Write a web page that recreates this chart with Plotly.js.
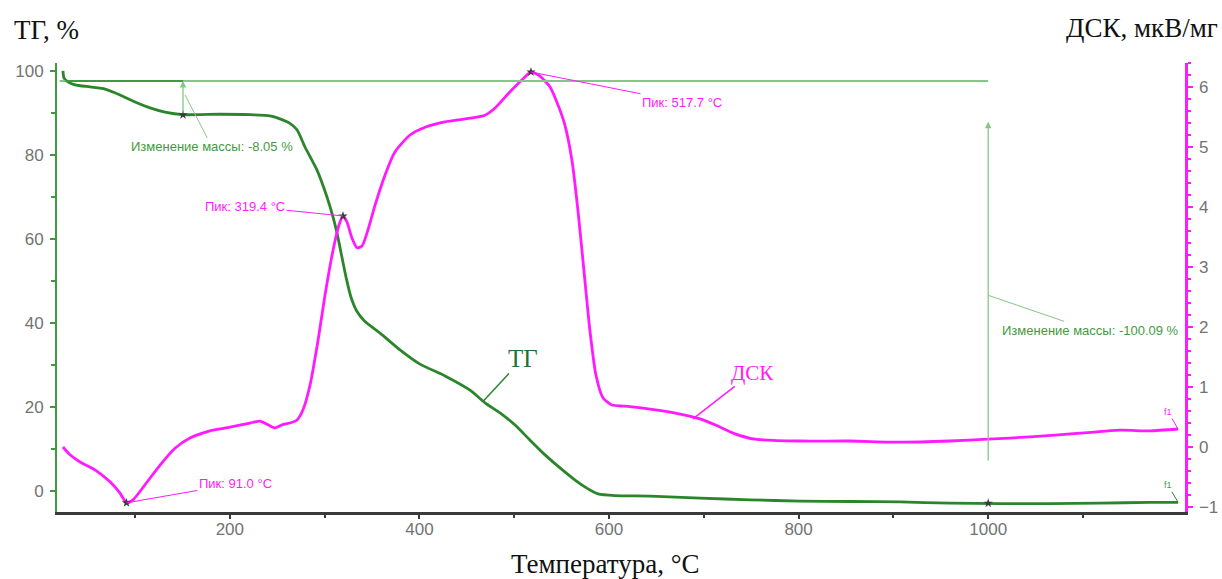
<!DOCTYPE html>
<html>
<head>
<meta charset="utf-8">
<script src="https://cdn.plot.ly/plotly-3.0.1.min.js"></script>
<style>
  html, body { margin: 0; padding: 0; background: #ffffff; }
  #chart { width: 1222px; height: 579px; }
</style>
</head>
<body>
<div id="chart"></div>
<script>
// Thermogravimetry (TG, %) and differential scanning calorimetry (DSC, µV/mg) versus temperature
const tgTemp = [24.0, 25.1, 29.3, 36.7, 52.5, 68.4, 84.2, 100, 115.8, 131.6, 150.6, 189.7, 221.3, 242.4,
  252.9, 263, 270.9, 279.3, 292.0, 302.5, 308.9, 313.1, 318, 323, 328, 334, 342, 358.5, 379.5, 400.6,
  427.0, 453.4, 469.2, 485.0, 500.9, 516.7, 532.5, 548.3, 564.2, 577.9, 588.4, 606.4, 643.3, 696.0,
  748.8, 801.5, 854.3, 907.0, 959.7, 1012.5, 1065.2, 1118.0, 1170.7, 1200.3];
const tgMass = [100.0, 98.3, 97.4, 96.7, 96.2, 95.7, 94.3, 92.6, 91.2, 90.2, 89.6, 89.7, 89.6, 89.3,
  88.6, 87.6, 86.0, 81.9, 76.4, 70.0, 65.2, 61.4, 56.0, 50.5, 46.0, 42.8, 40.5, 37.6, 33.6, 30.2,
  27.4, 24.0, 21.0, 18.6, 15.7, 12.1, 8.6, 5.5, 2.6, 0.5, -0.7, -1.1, -1.2, -1.7,
  -2.1, -2.4, -2.5, -2.6, -2.9, -3.0, -3.0, -2.9, -2.7, -2.7];

const dscTemp = [24.0, 31.4, 42.0, 57.8, 73.6, 84.2, 91.0, 97.9, 110.5, 126.4, 142.2, 158.0, 179.1, 200.2,
  221.3, 231.8, 240.3, 247.7, 255.1, 263.5, 270.9, 277.2, 284.6, 293.1, 300.4, 308.9, 315.2, 319.4,
  323.6, 328.9, 334.2, 339.5, 345.8, 353.2, 363.7, 374.3, 390.1, 406.0, 427.0, 453.4, 469.2, 479.8,
  495.6, 508.3, 517.7, 527.2, 537.8, 546.2, 553.4, 560.9, 567.2, 573.5, 579.8, 586.2, 593.6, 603.1,
  616.8, 643.3, 674.9, 696.0, 711.8, 732.9, 754.0, 801.5, 854.3, 907.0, 959.7, 1000, 1044.1, 1096.9,
  1138.9, 1170.7, 1200.3];
const dscSignal = [0.0, -0.13, -0.25, -0.38, -0.58, -0.77, -0.93, -0.88, -0.63, -0.30, -0.02, 0.15, 0.27, 0.33,
  0.40, 0.43, 0.37, 0.32, 0.37, 0.40, 0.45, 0.62, 1.03, 1.78, 2.53, 3.28, 3.70, 3.85,
  3.75, 3.48, 3.32, 3.35, 3.62, 4.03, 4.53, 4.92, 5.20, 5.33, 5.42, 5.48, 5.53, 5.65,
  5.92, 6.12, 6.25, 6.18, 6.00, 5.70, 5.37, 4.78, 3.95, 2.95, 1.95, 1.20, 0.82, 0.70,
  0.68, 0.63, 0.55, 0.47, 0.37, 0.22, 0.13, 0.10, 0.10, 0.08, 0.10, 0.13, 0.17, 0.23,
  0.28, 0.27, 0.30];

// Axis tick positions
const tempTicks = [200, 400, 600, 800, 1000];
const tempMinorTicks = [100, 300, 500, 700, 900, 1100];

// DSC peaks
const peakTemps = [91.0, 319.4, 517.7];
const peakSignals = [-0.93, 3.85, 6.25];

// Mass-change steps evaluated on the TG curve
const stepTemps = [150.6, 1000];
const stepChanges = [-8.05, -100.09];
const stepEndMass = [89.55, -2.9];
const startMass = 97.6;

const TG_GREEN = '#2b862b';
const TG_LIGHT = '#86c686';
const DSC_MAGENTA = '#ff1aff';
const TICK_GREY = '#737373';
const SERIF = '"Liberation Serif", "DejaVu Serif", serif';
const SANS = '"Liberation Sans", Arial, sans-serif';

const traces = [
  {
    x: tgTemp, y: tgMass, type: 'scatter', mode: 'lines', name: 'ТГ',
    line: { color: TG_GREEN, width: 2.8, shape: 'spline', smoothing: 0.6 },
    xaxis: 'x', yaxis: 'y', hoverinfo: 'x+y'
  },
  {
    x: dscTemp, y: dscSignal, type: 'scatter', mode: 'lines', name: 'ДСК',
    line: { color: DSC_MAGENTA, width: 2.8, shape: 'spline', smoothing: 0.6 },
    xaxis: 'x', yaxis: 'y2', hoverinfo: 'x+y'
  },
  {
    x: peakTemps, y: peakSignals, type: 'scatter', mode: 'markers', yaxis: 'y2',
    marker: { symbol: 'star', size: 7, color: '#3a3a3a' }, hoverinfo: 'skip', showlegend: false
  },
  {
    x: stepTemps, y: stepEndMass, type: 'scatter', mode: 'markers', yaxis: 'y',
    marker: { symbol: 'star', size: 7, color: '#3a3a3a' }, hoverinfo: 'skip', showlegend: false
  }
];

const smallFont = (c) => ({ family: SANS, size: 13, color: c });

const annotations = [];

// peak labels with leader lines
const peakOffsets = [[109, -19], [-98, -10], [151, 30]];
peakTemps.forEach((t, i) => {
  annotations.push({
    x: t, y: peakSignals[i], xref: 'x', yref: 'y2',
    text: 'Пик: ' + t.toFixed(1) + ' °C',
    font: smallFont(DSC_MAGENTA),
    showarrow: true, arrowhead: 0, arrowwidth: 1, arrowcolor: DSC_MAGENTA,
    ax: peakOffsets[i][0], ay: peakOffsets[i][1]
  });
});

// mass-change arrows (pointing up to the reference level)
const stepArrowBase = [stepEndMass[0], 6.9];
const stepArrowTip = [startMass, 87.9];
stepTemps.forEach((t, i) => {
  annotations.push({
    x: t, y: stepArrowTip[i], xref: 'x', yref: 'y',
    ax: t, ay: stepArrowBase[i], axref: 'x', ayref: 'y',
    text: '', showarrow: true, arrowhead: 2, arrowsize: 1, arrowwidth: 1.3, arrowcolor: TG_LIGHT
  });
});

// mass-change labels
const stepLabelAnchor = [[152.7, 94.3], [1000, 46.6]];
const stepLabelOffsets = [[27, 52], [102, 35]];
stepChanges.forEach((c, i) => {
  annotations.push({
    x: stepLabelAnchor[i][0], y: stepLabelAnchor[i][1], xref: 'x', yref: 'y',
    text: 'Изменение массы: ' + c.toFixed(2) + ' %',
    font: smallFont('#3f9a3f'),
    showarrow: true, arrowhead: 0, arrowwidth: 1, arrowcolor: TG_LIGHT,
    ax: stepLabelOffsets[i][0], ay: stepLabelOffsets[i][1]
  });
});

// curve names
annotations.push({
  x: 467, y: 21.3, xref: 'x', yref: 'y', text: 'ТГ',
  font: { family: SERIF, size: 25, color: '#1f6f3a' },
  showarrow: true, arrowhead: 0, arrowwidth: 1.5, arrowcolor: TG_GREEN, ax: 40, ay: -43
});
annotations.push({
  x: 688.6, y: 0.47, xref: 'x', yref: 'y2', text: 'ДСК',
  font: { family: SERIF, size: 21, color: DSC_MAGENTA },
  showarrow: true, arrowhead: 0, arrowwidth: 1.5, arrowcolor: DSC_MAGENTA, ax: 59, ay: -46
});

// segment markers at the curve ends
annotations.push({
  x: 1200.3, y: 0.30, xref: 'x', yref: 'y2', text: 'f1',
  font: { family: SANS, size: 9, color: DSC_MAGENTA },
  showarrow: true, arrowhead: 0, arrowwidth: 1, arrowcolor: DSC_MAGENTA, ax: -10, ay: -17
});
annotations.push({
  x: 1200.3, y: -2.7, xref: 'x', yref: 'y', text: 'f1',
  font: { family: SANS, size: 9, color: '#3f9a3f' },
  showarrow: true, arrowhead: 0, arrowwidth: 1, arrowcolor: TG_GREEN, ax: -10, ay: -17
});

// axis titles
annotations.push({
  xref: 'paper', yref: 'paper', x: -0.040, y: 1.073, xanchor: 'left', yanchor: 'middle',
  text: 'ТГ, %', showarrow: false, font: { family: SERIF, size: 27, color: '#111111' }
});
annotations.push({
  xref: 'paper', yref: 'paper', x: 1.031, y: 1.078, xanchor: 'right', yanchor: 'middle',
  text: 'ДСК, мкВ/мг', showarrow: false, font: { family: SERIF, size: 27, color: '#111111' }
});
annotations.push({
  xref: 'paper', yref: 'paper', x: 0.486, y: -0.116, xanchor: 'center', yanchor: 'middle',
  text: 'Температура, °С', showarrow: false, font: { family: SERIF, size: 27, color: '#111111' }
});

const shapes = [
  // reference mass level
  { type: 'line', xref: 'x', yref: 'y', x0: 20.5, x1: 1000, y0: startMass, y1: startMass,
    line: { color: TG_LIGHT, width: 2 } },
  { type: 'line', xref: 'x', yref: 'y', x0: 26, x1: stepTemps[0], y0: startMass, y1: startMass,
    line: { color: '#3e9a3e', width: 2 } }
];

const layout = {
  width: 1222, height: 579,
  margin: { l: 57, r: 37, t: 63, b: 67, pad: 0 },
  paper_bgcolor: '#ffffff', plot_bgcolor: '#ffffff',
  showlegend: false,
  xaxis: {
    range: [17.7, 1207.6], tickmode: 'array', tickvals: tempTicks,
    showgrid: false, zeroline: false,
    showline: true, linecolor: '#3a3a3a', linewidth: 3,
    ticks: 'outside', ticklen: 4, tickwidth: 2, tickcolor: '#3a3a3a',
    minor: { tickmode: 'array', tickvals: tempMinorTicks, ticks: 'outside', ticklen: 3, tickwidth: 2, tickcolor: '#3a3a3a' },
    tickfont: { family: SANS, size: 17, color: TICK_GREY },
    ticklabelstandoff: -4
  },
  yaxis: {
    range: [-5, 101.9], tickmode: 'linear', tick0: 0, dtick: 20,
    showgrid: false, zeroline: false,
    showline: true, linecolor: '#3f9a3f', linewidth: 2,
    ticks: 'outside', ticklen: 5, tickwidth: 1.5, tickcolor: '#3f9a3f',
    minor: { dtick: 10, ticks: 'outside', ticklen: 4, tickwidth: 1.5, tickcolor: '#3f9a3f' },
    tickfont: { family: SANS, size: 17, color: TICK_GREY },
    ticklabelstandoff: 3
  },
  yaxis2: {
    overlaying: 'y', side: 'right', anchor: 'x',
    range: [-1.083, 6.4], tickmode: 'linear', tick0: 0, dtick: 1,
    showgrid: false, zeroline: false,
    showline: true, linecolor: DSC_MAGENTA, linewidth: 2.5,
    ticks: 'outside', ticklen: 5, tickwidth: 1.5, tickcolor: DSC_MAGENTA,
    minor: { dtick: 0.2, ticks: 'outside', ticklen: 3, tickwidth: 1.5, tickcolor: DSC_MAGENTA },
    tickfont: { family: SANS, size: 17, color: TICK_GREY },
    ticklabelstandoff: 3
  },
  annotations: annotations,
  shapes: shapes
};

Plotly.newPlot('chart', traces, layout, { displayModeBar: false, staticPlot: true });
</script>
</body>
</html>
